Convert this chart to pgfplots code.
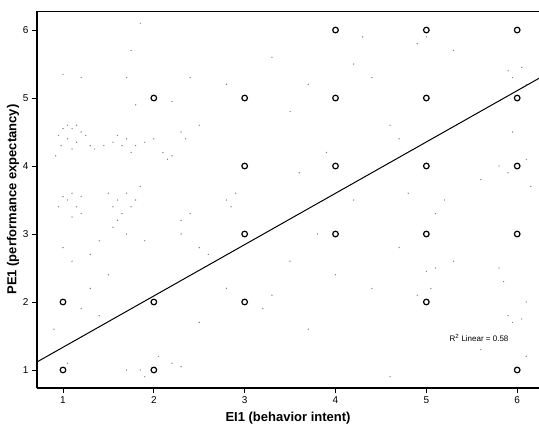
\documentclass[border=0pt]{standalone}
\usepackage{pgfplots}
\pgfplotsset{compat=1.18}
\usepackage{fontspec}
\setmainfont{Liberation Sans}

\begin{document}
\begin{tikzpicture}
\begin{axis}[
  at={(0,0)}, anchor=south west,
  width=502pt, height=377pt, scale only axis,
  xmin=0.714, xmax=6.24, ymin=0.735, ymax=6.28,
  xtick={1,2,3,4,5,6}, ytick={1,2,3,4,5,6},
  axis x line*=bottom, axis y line*=left,
  axis line style={line width=1.2pt},
  tick align=outside, major tick length=5pt,
  tick style={black, line width=0.8pt},
  /pgf/number format/assume math mode=true,
  tick label style={font=\fontsize{10}{12}\selectfont},
  xlabel={EI1 (behavior intent)},
  ylabel={PE1 (performance expectancy)},
  label style={font=\fontsize{13}{15}\selectfont\bfseries},
  xlabel style={at={(axis description cs:0.5,0)}, anchor=center, yshift=-30pt},
  ylabel style={at={(axis description cs:0,0.5)}, anchor=center, yshift=24pt},
  clip=true,
]
% background dots (as seen in the scan)
\addplot[only marks, mark=*, mark size=0.4pt, gray] coordinates {
  (0.95,4.45) (1.0,4.55) (1.05,4.6) (1.1,4.55) (1.15,4.6) (1.2,4.5) (1.05,4.4)
  (1.15,4.35) (0.98,4.3) (1.25,4.45) (1.1,4.25) (0.92,4.15) (1.3,4.3)
  (1.35,4.25) (1.45,4.3) (1.55,4.35) (1.6,4.45) (1.65,4.3) (1.7,4.4) (1.75,4.2)
  (1.8,4.3) (1.9,4.35) (2.0,4.4) (2.1,4.2) (2.15,4.1) (2.2,4.15) (2.3,4.5) (2.35,4.4)
  (0.95,3.4) (1.05,3.5) (1.1,3.6) (1.15,3.4) (1.2,3.3) (1.1,3.25) (1.0,3.55) (1.2,3.55)
  (1.5,3.6) (1.55,3.4) (1.6,3.5) (1.65,3.3) (1.7,3.6) (1.75,3.4) (1.6,3.2) (1.8,3.5)
  (1.85,3.7) (1.55,3.1) (1.7,3.0)
  (1.0,5.35) (1.2,5.3) (1.7,5.3) (1.75,5.7) (1.85,6.1) (1.8,4.9) (2.2,4.95) (2.4,5.3)
  (2.5,4.6) (2.8,5.2) (3.3,5.6) (3.5,4.8) (3.7,5.2) (4.2,5.5) (4.3,5.9) (4.4,5.3)
  (4.9,5.8) (5.0,5.9) (5.3,5.7) (5.9,5.4) (5.95,5.3) (6.05,5.45) (6.1,5.2) (5.95,4.5)
  (6.1,4.1) (5.9,3.9) (5.8,4.0) (6.15,3.7) (5.2,3.5) (5.6,3.8) (4.6,4.6) (4.7,4.4)
  (3.9,4.2) (3.6,3.9) (2.8,3.5) (2.85,3.4) (2.9,3.6) (2.4,3.3) (2.3,3.0) (2.5,2.8)
  (1.4,2.9) (1.3,2.7) (1.5,2.4) (1.3,2.2) (1.4,1.8) (1.2,1.9) (0.9,1.6) (1.05,1.1)
  (2.2,1.1) (2.05,1.2) (2.3,1.05) (1.7,1.0) (1.85,1.0) (1.9,0.9) (2.5,1.7) (2.8,2.2)
  (3.2,1.9) (3.3,2.1) (4.0,2.4) (4.4,2.2) (4.9,2.1) (5.05,2.2) (5.1,2.5) (5.0,2.45)
  (5.3,2.6) (5.8,2.5) (5.85,2.3) (5.9,1.8) (5.95,1.7) (6.05,1.75) (6.1,2.0) (5.6,1.3)
  (6.1,1.2) (4.6,0.9) (3.7,1.6) (3.5,2.6) (4.7,2.8) (2.6,2.7) (3.8,3.0) (4.2,3.5)
  (4.8,3.6) (5.1,3.3) (1.9,2.9) (1.1,2.6) (1.0,2.8) (2.3,3.2)
};
% observed value combinations
\addplot[only marks, mark=o, mark size=2.8pt, mark options={line width=1.2pt}, black] coordinates {
  (1,1) (2,1) (6,1)
  (1,2) (2,2) (3,2) (5,2)
  (3,3) (4,3) (5,3) (6,3)
  (3,4) (4,4) (5,4) (6,4)
  (2,5) (3,5) (4,5) (5,5) (6,5)
  (4,6) (5,6) (6,6)
};
% fit line
\addplot[black, line width=1pt] coordinates {(0.714,1.118) (6.24,5.29)};
\node[font=\fontsize{8}{9}\selectfont, inner sep=0pt] at (axis cs:5.58,1.47) {R\textsuperscript{2} Linear = 0.58};
\draw[line width=1.2pt] (rel axis cs:0,1) -- (rel axis cs:1,1);
\end{axis}
\pgfresetboundingbox
\path (-37pt,-44pt) rectangle (502pt,388pt);
\end{tikzpicture}
\end{document}
